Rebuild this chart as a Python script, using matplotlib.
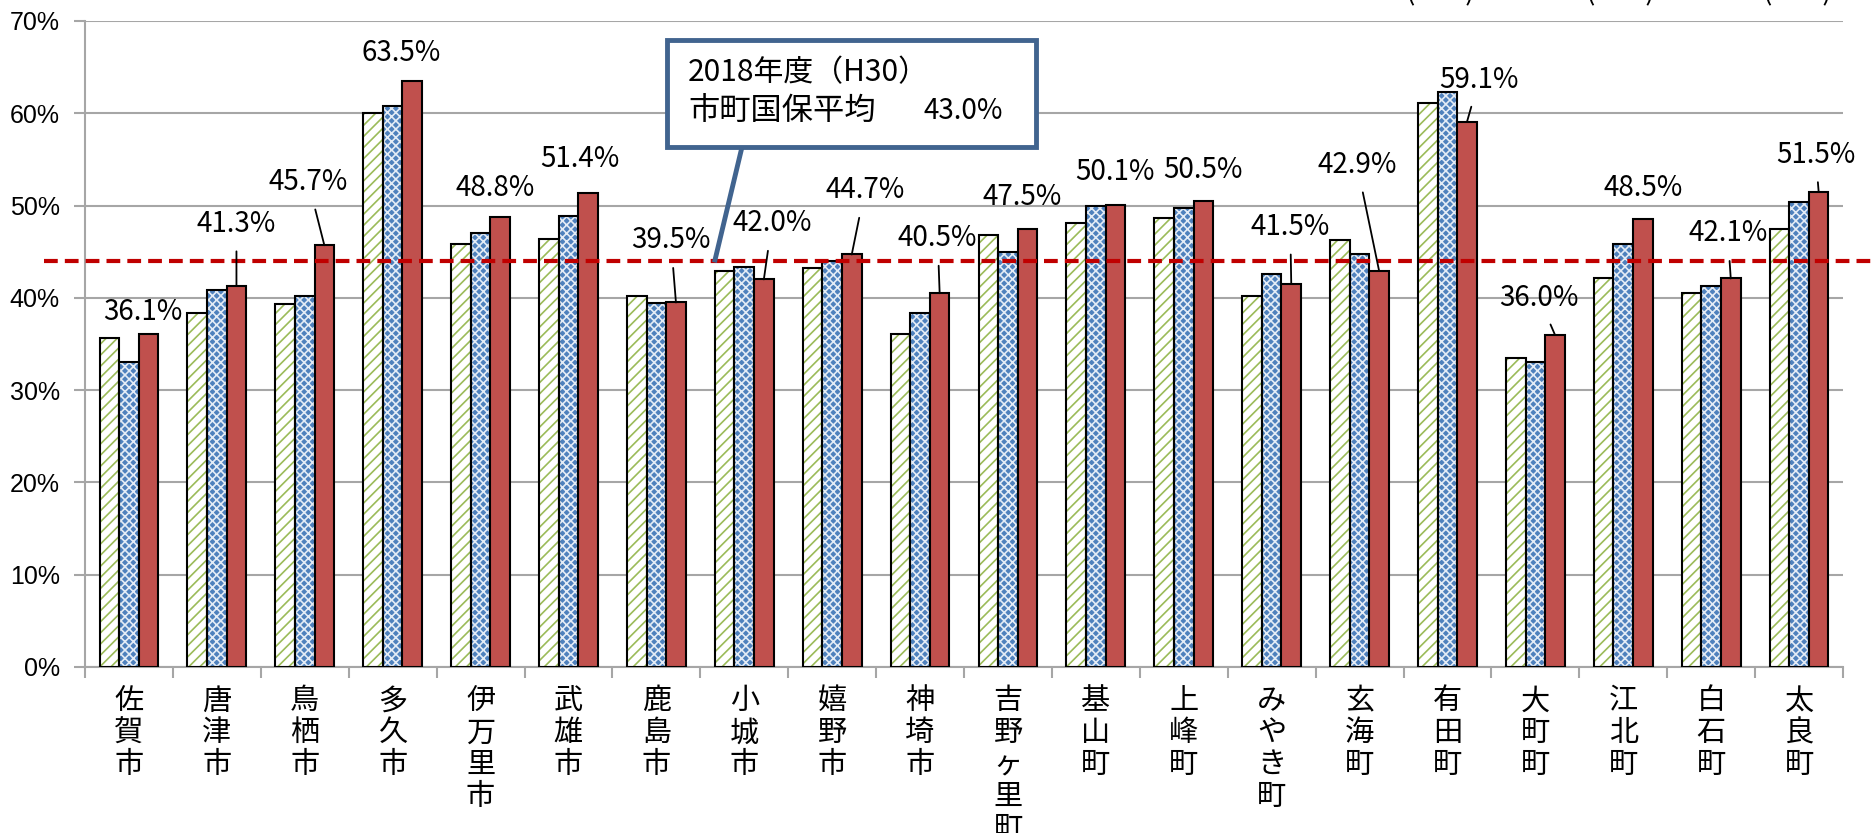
import numpy as np
import matplotlib
matplotlib.use('Agg')
import matplotlib.pyplot as plt
from matplotlib.patches import Rectangle
from matplotlib.lines import Line2D

plt.rcParams['font.family'] = ['Noto Sans CJK JP', 'DejaVu Sans']
plt.rcParams['hatch.linewidth'] = 1.2

# 市町別の値 (%)
towns = ['佐賀市', '唐津市', '鳥栖市', '多久市', '伊万里市', '武雄市', '鹿島市', '小城市',
         '嬉野市', '神埼市', '吉野ヶ里町', '基山町', '上峰町', 'みやき町', '玄海町', '有田町',
         '大町町', '江北町', '白石町', '太良町']
h28 = [35.6, 38.4, 39.3, 60.0, 45.8, 46.4, 40.2, 42.9, 43.2, 36.1,
       46.8, 48.1, 48.6, 40.2, 46.3, 61.1, 33.5, 42.1, 40.5, 47.5]
h29 = [33.0, 40.8, 40.2, 60.8, 47.0, 48.9, 39.4, 43.3, 44.0, 38.4,
       45.0, 50.0, 49.7, 42.6, 44.8, 62.3, 33.1, 45.8, 41.3, 50.4]
h30 = [36.1, 41.3, 45.7, 63.5, 48.8, 51.4, 39.5, 42.0, 44.7, 40.5,
       47.5, 50.1, 50.5, 41.5, 42.9, 59.1, 36.0, 48.5, 42.1, 51.5]
series_names = ['(H28)', '(H29)', '(H30)']
avg_line = 44.0
avg_label = '43.0%'

# ラベル位置 (ピクセル) と引き出し線の有無
lab_off = [(-6, 22), (0, 62), (-16, 63), (-11, 28), (-5, 29), (-8, 34), (-5, 62), (8, 56),
           (13, 64), (-2, 55), (-5, 32), (0, 33), (0, 31), (-1, 57), (-22, 106), (12, 42),
           (-16, 37), (0, 31), (-3, 45), (-3, 37)]
leader = [False, True, True, False, False, False, True, True, True, True,
          False, False, False, True, True, True, True, False, True, True]

W, H = 1876, 833
fig = plt.figure(figsize=(W / 100, H / 100), dpi=100)
ax = fig.add_axes([85 / W, 1 - 667 / H, (1843 - 85) / W, (667 - 21) / H])

x = np.arange(len(towns))
w = 0.223
grid_c = '#A6A6A6'

# 2016 (H28): 緑の斜線
ax.bar(x - w, h28, w, color='white', edgecolor='#9BBB59', hatch='///', lw=0, zorder=2)
ax.bar(x - w, h28, w, fill=False, edgecolor='black', lw=1.5, zorder=3)
# 2017 (H29): 青のドット
ax.bar(x, h29, w, color='#4F81BD', edgecolor='#E4ECF6', hatch='xxxx', lw=0, zorder=2)
ax.bar(x, h29, w, fill=False, edgecolor='black', lw=1.5, zorder=3)
# 2018 (H30)
ax.bar(x + w, h30, w, color='#C0504D', edgecolor='black', lw=1.5, zorder=3)

for i, v in enumerate(h30):
    dx, dy = lab_off[i]
    ap = None
    if leader[i]:
        ap = dict(arrowstyle='-', color='black', lw=1.3, shrinkA=7, shrinkB=0)
    ax.annotate(f'{v:.1f}%', xy=(x[i] + w, v), xytext=(dx, dy), textcoords='offset pixels',
                ha='center', va='center', fontsize=20, arrowprops=ap, zorder=5)

# 平均線
ln = ax.axhline(avg_line, xmin=(44 - 85) / 1758, xmax=(W - 85) / 1758, color='#C00000',
                lw=3, clip_on=False, zorder=4)
ln.set_dashes([3.3, 1.7])
ln.set_dash_capstyle('butt')

ax.set_xlim(-0.5, len(towns) - 0.5)
ax.set_ylim(0, 70)
ax.set_yticks(range(0, 71, 10))
ax.set_yticklabels([f'{t}%' for t in range(0, 71, 10)], fontsize=18,
                   family=['Liberation Sans', 'DejaVu Sans'])
ax.yaxis.grid(True, color=grid_c, lw=1.5, zorder=0)
ax.set_axisbelow(True)
ax.tick_params(axis='y', length=8, width=1.5, color=grid_c, pad=10)

ax.set_xticks(np.arange(-0.5, len(towns), 1))
ax.set_xticklabels([])
ax.set_xticks(x, minor=True)
ax.set_xticklabels(['\n'.join(t) for t in towns], minor=True, fontsize=21, linespacing=1.08)
ax.tick_params(axis='x', which='major', length=8, width=1.5, color=grid_c)
ax.tick_params(axis='x', which='minor', length=0, pad=14)

for s in ['top', 'right']:
    ax.spines[s].set_visible(False)
for s in ['left', 'bottom']:
    ax.spines[s].set_color(grid_c)
    ax.spines[s].set_linewidth(1.5)

# 凡例 (上端で切れている)
for name, px in zip(series_names, [1440, 1620, 1797]):
    fig.text(px / W, 1.0, name, ha='center', va='baseline', fontsize=20)

# 吹き出し
box_c = '#41648F'
fig.add_artist(Line2D([742 / W, 715 / W], [1 - 147 / H, 1 - 260 / H], color=box_c, lw=3.5,
                      zorder=6))
fig.add_artist(Rectangle((667 / W, 1 - 147 / H), (1036 - 667) / W, (147 - 40) / H,
                         transform=fig.transFigure, facecolor='white', edgecolor=box_c,
                         lw=3.5, zorder=7))
fig.text(688 / W, 1 - 73 / H, '2018年度（H30）', ha='left', va='center', fontsize=21.5, zorder=8)
fig.text(688 / W, 1 - 111 / H, '市町国保平均', ha='left', va='center', fontsize=22.5, zorder=8)
fig.text(923 / W, 1 - 111 / H, avg_label, ha='left', va='center', fontsize=20, zorder=8)

fig.savefig('out.png', dpi=100)
